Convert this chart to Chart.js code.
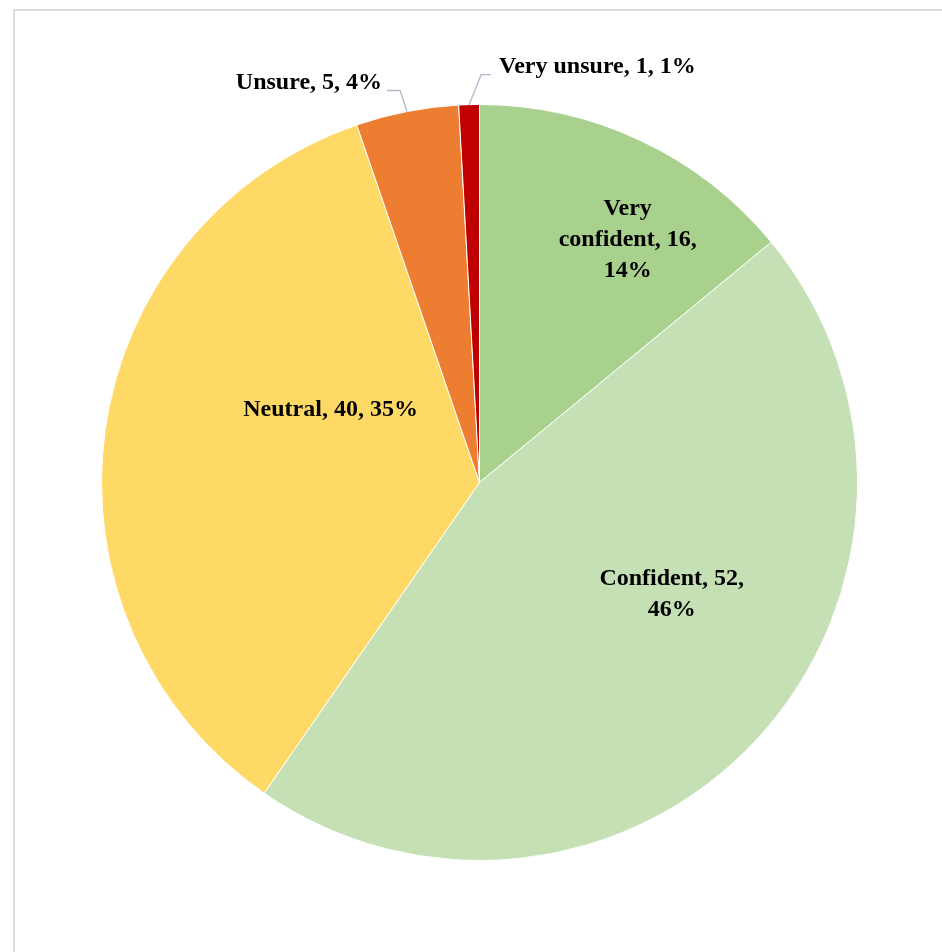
<!DOCTYPE html>
<html>
<head>
<meta charset="utf-8">
<script src="https://cdn.jsdelivr.net/npm/chart.js@4/dist/chart.umd.min.js"></script>
<style>
  html, body { margin: 0; padding: 0; background: #ffffff; }
  #wrap { width: 942px; height: 952px; position: relative; }
</style>
</head>
<body>
<div id="wrap"><canvas id="c" width="942" height="952"></canvas></div>
<script>
// ---- data ----
const categories = ['Very confident', 'Confident', 'Neutral', 'Unsure', 'Very unsure'];
const counts = [16, 52, 40, 5, 1];
const percents = [14, 46, 35, 4, 1];

// ---- style ----
const sliceColors = ['#A9D18E', '#C5E0B4', '#FFD966', '#ED7D31', '#C00000'];
const labelFont = 'bold 24px "Liberation Serif", "Times New Roman", serif';
const lineHeight = 31;
// inside labels: angle offset from slice middle (deg, clockwise), fraction of radius, wrap width
// outside labels: leader elbow/end offsets from arc edge point, label anchor
const labelStyle = [
  { inside: true, dAngle: 6.1, frac: 0.753, wrap: 145 },
  { inside: true, dAngle: -12.5, frac: 0.588, wrap: 160 },
  { inside: true, dAngle: 18.0, frac: 0.438, wrap: 260 },
  { inside: false, elbow: [-7, -21], end: [-20, -21], text: [-25, -29], align: 'right' },
  { inside: false, elbow: [12, -30], end: [22, -30], text: [30, -38], align: 'left' }
];

function wrapText(ctx, text, maxW) {
  const words = text.split(' ');
  const lines = [];
  let cur = '';
  for (const w of words) {
    const test = cur ? cur + ' ' + w : w;
    if (cur && ctx.measureText(test).width > maxW) {
      lines.push(cur);
      cur = w;
    } else {
      cur = test;
    }
  }
  if (cur) lines.push(cur);
  return lines;
}

const framePlugin = {
  id: 'frame',
  beforeDraw(chart) {
    const ctx = chart.ctx;
    ctx.save();
    ctx.strokeStyle = '#dcdde2';
    ctx.lineWidth = 2;
    ctx.strokeRect(14, 10, 1200, 1200);
    ctx.restore();
  }
};

const labelPlugin = {
  id: 'sliceLabels',
  afterDatasetsDraw(chart) {
    const ctx = chart.ctx;
    const meta = chart.getDatasetMeta(0);
    ctx.save();
    ctx.font = labelFont;
    ctx.fillStyle = '#000000';
    ctx.textBaseline = 'middle';
    meta.data.forEach((arc, i) => {
      const p = arc.getProps(['x', 'y', 'startAngle', 'endAngle', 'outerRadius'], true);
      const mid = (p.startAngle + p.endAngle) / 2;
      const st = labelStyle[i];
      const text = categories[i] + ', ' + counts[i] + ', ' + percents[i] + '%';
      if (st.inside) {
        const a = mid + st.dAngle * Math.PI / 180;
        const lx = p.x + st.frac * p.outerRadius * Math.cos(a);
        const ly = p.y + st.frac * p.outerRadius * Math.sin(a);
        const lines = wrapText(ctx, text, st.wrap);
        ctx.textAlign = 'center';
        const top = ly - (lines.length - 1) * lineHeight / 2;
        lines.forEach((ln, k) => ctx.fillText(ln, lx, top + k * lineHeight));
      } else {
        const ex = p.x + p.outerRadius * Math.cos(mid);
        const ey = p.y + p.outerRadius * Math.sin(mid);
        ctx.save();
        ctx.strokeStyle = '#b0bccb';
        ctx.lineWidth = 1.3;
        ctx.beginPath();
        ctx.moveTo(ex, ey);
        ctx.lineTo(ex + st.elbow[0], ey + st.elbow[1]);
        ctx.lineTo(ex + st.end[0], ey + st.end[1]);
        ctx.stroke();
        ctx.restore();
        ctx.textAlign = st.align;
        ctx.fillText(text, ex + st.text[0], ey + st.text[1]);
      }
    });
    ctx.restore();
  }
};

new Chart(document.getElementById('c'), {
  type: 'pie',
  data: {
    labels: categories,
    datasets: [{
      data: counts,
      backgroundColor: sliceColors,
      borderColor: '#ffffff',
      borderWidth: 1
    }]
  },
  options: {
    responsive: false,
    animation: false,
    devicePixelRatio: 1,
    layout: { padding: { left: 101, right: 84, top: 103, bottom: 90 } },
    plugins: {
      legend: { display: false },
      tooltip: { enabled: false }
    }
  },
  plugins: [framePlugin, labelPlugin]
});
</script>
</body>
</html>
